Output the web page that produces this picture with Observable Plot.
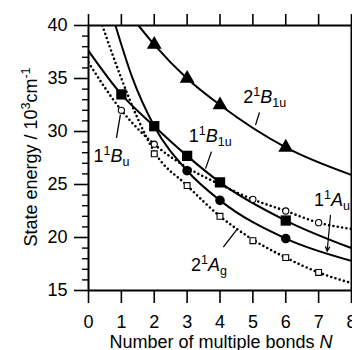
<!DOCTYPE html>
<html><head><meta charset="utf-8">
<script src="https://cdn.jsdelivr.net/npm/d3@7"></script>
<script src="https://cdn.jsdelivr.net/npm/@observablehq/plot@0.6"></script>
<style>
body{margin:0;background:#fff}
svg{font-family:"Liberation Sans",Arial,sans-serif}
</style>
</head><body><div id="chart"></div>
<script>
// ---- data ----
const xTicks = [0,1,2,3,4,5,6,7,8];
const yTicks = [15,20,25,30,35,40];
const yMinor = [16,17,18,19,21,22,23,24,26,27,28,29,31,32,33,34,36,37,38,39];

// 2^1B1u (solid, filled triangles)
const b2uCurveX = [1.52,2,3,4,6,8];
const b2uCurveY = [40,38.2,35.0,32.5,28.5,25.9];
const b2uMarkX = [2,3,4,6];
const b2uMarkY = [38.2,35.0,32.5,28.5];

// 1^1B1u (solid, filled squares)
const b1uCurveX = [0,1,2,3,4,6,8];
const b1uCurveY = [37.6,33.5,30.5,27.7,25.2,21.6,19.0];
const b1uMarkX = [1,2,3,4,6];
const b1uMarkY = [33.5,30.5,27.7,25.2,21.6];

// solid curve with filled circles
const agSolidCurveX = [0.82,1.33,2,3,4,6,8];
const agSolidCurveY = [40,35.1,30.5,26.3,23.5,19.9,17.8];
const agSolidMarkX = [3,4,6];
const agSolidMarkY = [26.3,23.5,19.9];

// 1^1Bu (dotted, open circles)
const buCurveX = [0,1,2,3,4,5,6,7,8];
const buCurveY = [36.5,32.0,28.8,26.6,25.0,23.6,22.5,21.4,20.8];
const buMarkX = [1,2,5,6,7];
const buMarkY = [32.0,28.8,23.6,22.5,21.4];

// 2^1Ag (dotted, open squares)
const agCurveX = [0.42,1,1.5,2,3,4,5,6,7,8];
const agCurveY = [40,35.0,31.2,28.1,24.9,22.0,19.8,18.1,16.7,15.7];
const agMarkX = [2,3,4,5,6,7];
const agMarkY = [27.9,24.9,22.0,19.7,18.1,16.7];

// state labels
const labelKeys = ["2¹B1u","1¹B1u","1¹Bu","2¹Ag","1¹Au"];
const labelParts = [
  [["2","n"],["1","sup"],["B","it"],["1u","sub"]],
  [["1","n"],["1","sup"],["B","it"],["1u","sub"]],
  [["1","n"],["1","sup"],["B","it"],["u","sub"]],
  [["2","n"],["1","sup"],["A","it"],["g","sub"]],
  [["1","n"],["1","sup"],["A","it"],["u","sub"]]
];
const labelX = [4.71,3.05,0.15,3.12,6.86];
const labelY = [33.2,29.6,27.7,17.4,23.5];

// pointer lines
const ptrX1 = [5.20,3.74,0.85,4.10];
const ptrY1 = [31.8,28.1,29.4,19.1];
const ptrX2 = [5.08,3.56,0.97,4.50];
const ptrY2 = [30.6,26.5,31.6,20.7];
const arrowX1 = [7.36], arrowY1 = [22.1], arrowX2 = [7.26], arrowY2 = [18.7];

// ---- build tables ----
const pts = (xs, ys) => xs.map((x, i) => ({x, y: ys[i]}));
const labels = labelKeys.map((k, i) => ({k, x: labelX[i], y: labelY[i]}));
const ptrs = ptrX1.map((d, i) => ({x1: d, y1: ptrY1[i], x2: ptrX2[i], y2: ptrY2[i]}));
const arrows = arrowX1.map((d, i) => ({x1: d, y1: arrowY1[i], x2: arrowX2[i], y2: arrowY2[i]}));

const solid = {x: "x", y: "y", stroke: "black", strokeWidth: 2, curve: "monotone-x", clip: true};
const dotted = {x: "x", y: "y", stroke: "black", strokeWidth: 2.6, strokeDasharray: "0,4.4", strokeLinecap: "round", curve: "monotone-x", clip: true};

const plot = Plot.plot({
  width: 352, height: 350,
  marginLeft: 88, marginRight: 1, marginTop: 25, marginBottom: 60,
  style: {fontFamily: '"Liberation Sans", Arial, sans-serif', fontSize: "18px", background: "white", color: "black", overflow: "visible"},
  x: {domain: [0, 8]},
  y: {domain: [15, 40]},
  marks: [
    Plot.axisX({ticks: xTicks, tickSize: 13, tickPadding: 12, strokeWidth: 1.6, fontSize: 18, label: null}),
    Plot.axisX({anchor: "top", ticks: xTicks, tickSize: 12, strokeWidth: 1.6, tickFormat: () => "", label: null}),
    Plot.axisY({ticks: yTicks, tickSize: 14, tickPadding: 7, strokeWidth: 1.6, fontSize: 18, label: null}),
    Plot.axisY({ticks: yMinor, tickSize: 6, strokeWidth: 1.4, tickFormat: () => "", label: null}),
    Plot.line(pts(b2uCurveX, b2uCurveY), solid),
    Plot.line(pts(b1uCurveX, b1uCurveY), solid),
    Plot.line(pts(agSolidCurveX, agSolidCurveY), solid),
    Plot.line(pts(buCurveX, buCurveY), dotted),
    Plot.line(pts(agCurveX, agCurveY), dotted),
    Plot.dot(pts(b2uMarkX, b2uMarkY), {x: "x", y: "y", symbol: "triangle", r: 5.5, fill: "black"}),
    Plot.dot(pts(b1uMarkX, b1uMarkY), {x: "x", y: "y", symbol: "square", r: 5.8, fill: "black"}),
    Plot.dot(pts(agSolidMarkX, agSolidMarkY), {x: "x", y: "y", symbol: "circle", r: 4.8, fill: "black"}),
    Plot.dot(pts(buMarkX, buMarkY), {x: "x", y: "y", symbol: "circle", r: 3.1, fill: "white", stroke: "black", strokeWidth: 1.1}),
    Plot.dot(pts(agMarkX, agMarkY), {x: "x", y: "y", symbol: "square", r: 3.3, fill: "white", stroke: "black", strokeWidth: 1.1}),
    Plot.link(ptrs, {x1: "x1", y1: "y1", x2: "x2", y2: "y2", stroke: "black", strokeWidth: 1.3}),
    Plot.arrow(arrows, {x1: "x1", y1: "y1", x2: "x2", y2: "y2", stroke: "black", strokeWidth: 1.2, headLength: 6, headAngle: 50}),
    Plot.text(labels, {x: "x", y: "y", text: "k", textAnchor: "start", fontSize: 18, fill: "black"}),
    Plot.frame({stroke: "black", strokeWidth: 2})
  ]
});

// rich formatting for the state labels (superscripts / subscripts / italics)
const partsByKey = Object.fromEntries(labelKeys.map((k, i) => [k, labelParts[i]]));
d3.select(plot).selectAll("text").each(function() {
  const parts = partsByKey[this.textContent];
  if (!parts) return;
  const t = d3.select(this);
  t.text(null);
  let shift = 0;
  for (const [s, kind] of parts) {
    const target = kind === "sup" ? -7 : kind === "sub" ? 4 : 0;
    const sp = t.append("tspan").text(s).attr("dy", target - shift);
    shift = target;
    if (kind === "sup" || kind === "sub") sp.attr("font-size", 12.5);
    if (kind === "it") sp.attr("font-style", "italic");
  }
});

// axis titles
const svg = d3.select(plot);
const yt = svg.append("text")
  .attr("transform", "translate(37,157) rotate(-90)")
  .attr("text-anchor", "middle").attr("font-size", 18).attr("fill", "black");
yt.append("tspan").text("State energy / 10");
yt.append("tspan").text("3").attr("font-size", 12.5).attr("dy", -7);
yt.append("tspan").text("cm").attr("dy", 7);
yt.append("tspan").text("-1").attr("font-size", 12.5).attr("dy", -7);

const xt = svg.append("text")
  .attr("x", 221).attr("y", 348)
  .attr("text-anchor", "middle").attr("font-size", 18).attr("fill", "black");
xt.append("tspan").text("Number of multiple bonds ");
xt.append("tspan").text("N").attr("font-style", "italic");

document.getElementById("chart").appendChild(plot);
</script>
</body></html>
